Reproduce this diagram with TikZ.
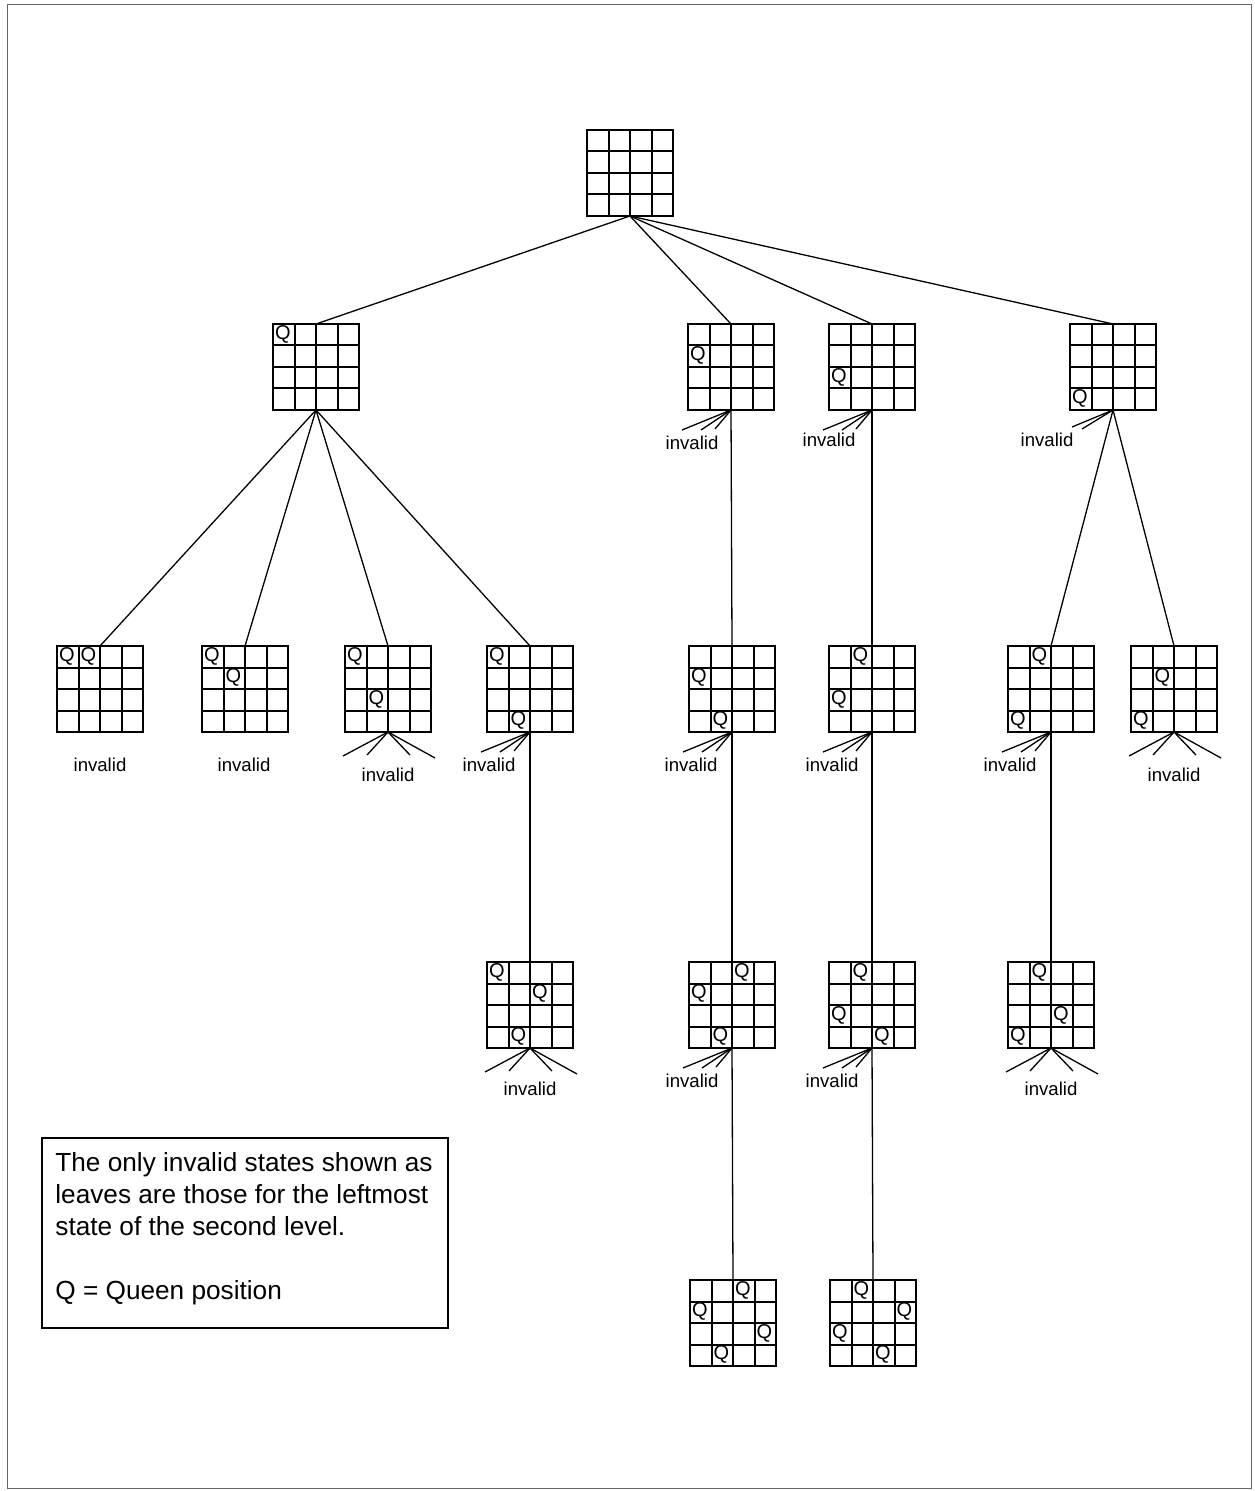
\documentclass[tikz,border=0pt]{standalone}
\usepackage{fontspec}
\setmainfont{Liberation Sans}
\tikzset{
  bd/.style={draw, line width=1pt, minimum size=43pt, inner sep=0pt, outer sep=0pt},
  gridl/.style={line width=1pt},
  qmark/.style={font=\fontsize{10}{10}\selectfont, inner sep=0pt},
  edge/.style={line width=0.65pt},
  lab/.style={font=\fontsize{9.3}{10}\selectfont, inner sep=0pt},
}
\newcommand\qboard[4]{%
  \node[bd] (#1) at ({#2+43},{#3+43}) {};
  \foreach \i in {1,2,3} {
    \draw[gridl] ({#2+21.5*\i},#3) -- ({#2+21.5*\i},{#3+86});
    \draw[gridl] (#2,{#3+21.5*\i}) -- ({#2+86},{#3+21.5*\i});
  }
  \foreach \r/\c [count=\k] in {#4} {
    \node[qmark] (#1-q\k) at ({#2+21.5*\c+9.8},{#3+21.5*\r+10}) {Q};
  }
}
\newcommand\fanleft[1]{%
  \draw[edge] (#1.south) -- ++(-49,20);
  \draw[edge] (#1.south) -- ++(-30,20);
  \draw[edge] (#1.south) -- ++(-16,19);
}
\newcommand\fanfour[1]{%
  \draw[edge] (#1.south) -- ++(-45,24);
  \draw[edge] (#1.south) -- ++(-21,23);
  \draw[edge] (#1.south) -- ++(22,23);
  \draw[edge] (#1.south) -- ++(47,26);
}
\begin{document}
\begin{tikzpicture}[x=0.5pt,y=-0.5pt]
\useasboundingbox (0,0) rectangle (1254,1491);
\draw[black!60, line width=0.5pt] (7,5) rectangle (1251,1488);

% boards
\qboard{R}{587}{130}{}
\qboard{A}{273}{324}{0/0}
\qboard{B}{688}{324}{1/0}
\qboard{C}{829}{324}{2/0}
\qboard{D}{1070}{324}{3/0}
\qboard{A1}{57}{646}{0/0,0/1}
\qboard{A2}{202}{646}{0/0,1/1}
\qboard{A3}{345}{646}{0/0,2/1}
\qboard{A4}{487}{646}{0/0,3/1}
\qboard{B1}{689}{646}{1/0,3/1}
\qboard{C1}{829}{646}{2/0,0/1}
\qboard{D1}{1008}{646}{3/0,0/1}
\qboard{D2}{1131}{646}{3/0,1/1}
\qboard{A4a}{487}{962}{0/0,1/2,3/1}
\qboard{B1a}{689}{962}{1/0,0/2,3/1}
\qboard{C1a}{829}{962}{2/0,0/1,3/2}
\qboard{D1a}{1008}{962}{3/0,0/1,2/2}
\qboard{B1aa}{690}{1280}{0/2,1/0,2/3,3/1}
\qboard{C1aa}{830}{1280}{0/1,1/3,2/0,3/2}

% tree edges
\foreach \c in {A,B,C,D} \draw[edge] (R.south) -- (\c.north);
\foreach \c in {A1,A2,A3,A4} \draw[edge] (A.south) -- (\c.north);
\draw[edge] (B.south) -- (B1.north);
\draw[edge] (C.south) -- (C1.north);
\draw[edge] (D.south) -- (D1.north);
\draw[edge] (D.south) -- (D2.north);
\draw[edge] (A4.south) -- (A4a.north);
\draw[edge] (B1.south) -- (B1a.north);
\draw[edge] (C1.south) -- (C1a.north);
\draw[edge] (D1.south) -- (D1a.north);
\draw[edge] (B1a.south) -- (B1aa.north);
\draw[edge] (C1a.south) -- (C1aa.north);

% invalid fans
\fanleft{B}
\fanleft{C}
\draw[edge] (D.south) -- ++(-41,17);
\draw[edge] (D.south) -- ++(-31,19);
\fanfour{A3}
\fanleft{A4}
\fanleft{B1}
\fanleft{C1}
\fanleft{D1}
\fanfour{D2}
\fanfour{A4a}
\fanleft{B1a}
\fanleft{C1a}
\fanfour{D1a}

% invalid labels
\node[lab] (lB) at (692,443) {invalid};
\node[lab] (lC) at (829,440) {invalid};
\node[lab] (lD) at (1047,440) {invalid};
\node[lab] (lA1) at (100,765) {invalid};
\node[lab] (lA2) at (244,765) {invalid};
\node[lab] (lA3) at (388,775) {invalid};
\node[lab] (lA4) at (489,765) {invalid};
\node[lab] (lB1) at (691,765) {invalid};
\node[lab] (lC1) at (832,765) {invalid};
\node[lab] (lD1) at (1010,765) {invalid};
\node[lab] (lD2) at (1174,775) {invalid};
\node[lab] (lA4a) at (530,1089) {invalid};
\node[lab] (lB1a) at (692,1081) {invalid};
\node[lab] (lC1a) at (832,1081) {invalid};
\node[lab] (lD1a) at (1051,1089) {invalid};

% note box
\draw[line width=0.8pt] (42,1138) rectangle (448,1328);
\node[anchor=north west, align=left, inner sep=0pt, font=\fontsize{13.1}{16}\selectfont] (note) at (55,1152)
 {The only invalid states shown as\\leaves are those for the leftmost\\state of the second level.\\[16pt]Q = Queen position};
\end{tikzpicture}
\end{document}
